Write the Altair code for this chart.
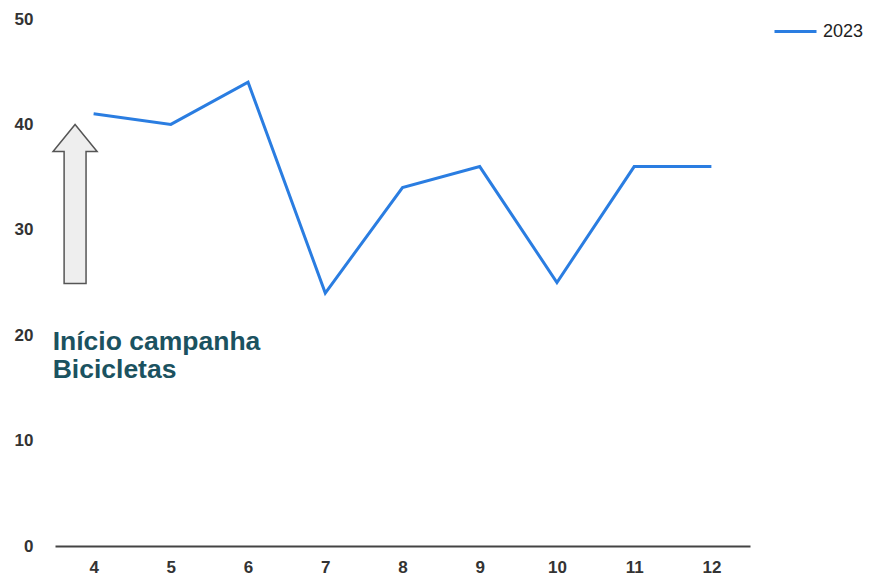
import altair as alt
import pandas as pd

months = [4, 5, 6, 7, 8, 9, 10, 11, 12]
values_2023 = [41, 40, 44, 24, 34, 36, 25, 36, 36]
series_name = "2023"

annot_text = ["Início campanha", "Bicicletas"]
annot_x = 3.47
annot_y = 18.6
arrow_x = 3.76
arrow_y = 32.45

df = pd.DataFrame({"mes": months, "valor": values_2023, "serie": series_name})

x_scale = alt.Scale(domain=[3.5, 12.5], nice=False, zero=False)
y_scale = alt.Scale(domain=[0, 50], nice=False)

line = alt.Chart(df).mark_line(strokeWidth=3).encode(
    x=alt.X("mes:Q", scale=x_scale,
            axis=alt.Axis(title=None, values=months, format="d", ticks=False, grid=False,
                          domainColor="#444", domainWidth=2, labelPadding=13,
                          labelFontSize=17, labelFontWeight="bold", labelColor="#333",
                          labelFont="Liberation Sans")),
    y=alt.Y("valor:Q", scale=y_scale,
            axis=alt.Axis(title=None, values=[0, 10, 20, 30, 40, 50], ticks=False, grid=False,
                          domain=False, labelPadding=22, labelFontSize=17, labelFontWeight="bold",
                          labelColor="#333", labelFont="Liberation Sans")),
    color=alt.Color("serie:N", scale=alt.Scale(range=["#2a7de1"]),
                    legend=alt.Legend(title=None, orient="none", legendX=718, legendY=-10,
                                      symbolType="stroke", symbolSize=1764, symbolStrokeWidth=3,
                                      labelFontSize=18, labelColor="#222", labelFont="Liberation Sans",
                                      labelOffset=5)),
)

arrow_path = "M0,-1 L0.277,-0.66 L0.138,-0.66 L0.138,1 L-0.138,1 L-0.138,-0.66 L-0.277,-0.66 Z"
arrow_df = pd.DataFrame({"x": [arrow_x], "y": [arrow_y]})
arrow = alt.Chart(arrow_df).mark_point(
    shape=arrow_path, size=25281, filled=True, fill="#eeeeee", stroke="#555555", strokeWidth=1.5,
    opacity=1,
).encode(x=alt.X("x:Q", scale=x_scale), y=alt.Y("y:Q", scale=y_scale))

text_df = pd.DataFrame({"x": [annot_x], "y": [annot_y], "t": ["\n".join(annot_text)]})
text = alt.Chart(text_df).mark_text(
    align="left", baseline="alphabetic", fontSize=26.5, fontWeight="bold",
    color="#1b5260", font="Liberation Sans", lineBreak="\n", lineHeight=28,
).encode(x=alt.X("x:Q", scale=x_scale), y=alt.Y("y:Q", scale=y_scale), text="t:N")

chart = alt.layer(line, arrow, text).properties(
    width=695, height=527,
    autosize=alt.AutoSizeParams(type="none"),
    padding={"left": 47, "top": 11, "right": 115, "bottom": 31},
).configure(background="white").configure_view(stroke=None)

chart.save("out.html", embed_options={"renderer": "svg", "actions": False})
